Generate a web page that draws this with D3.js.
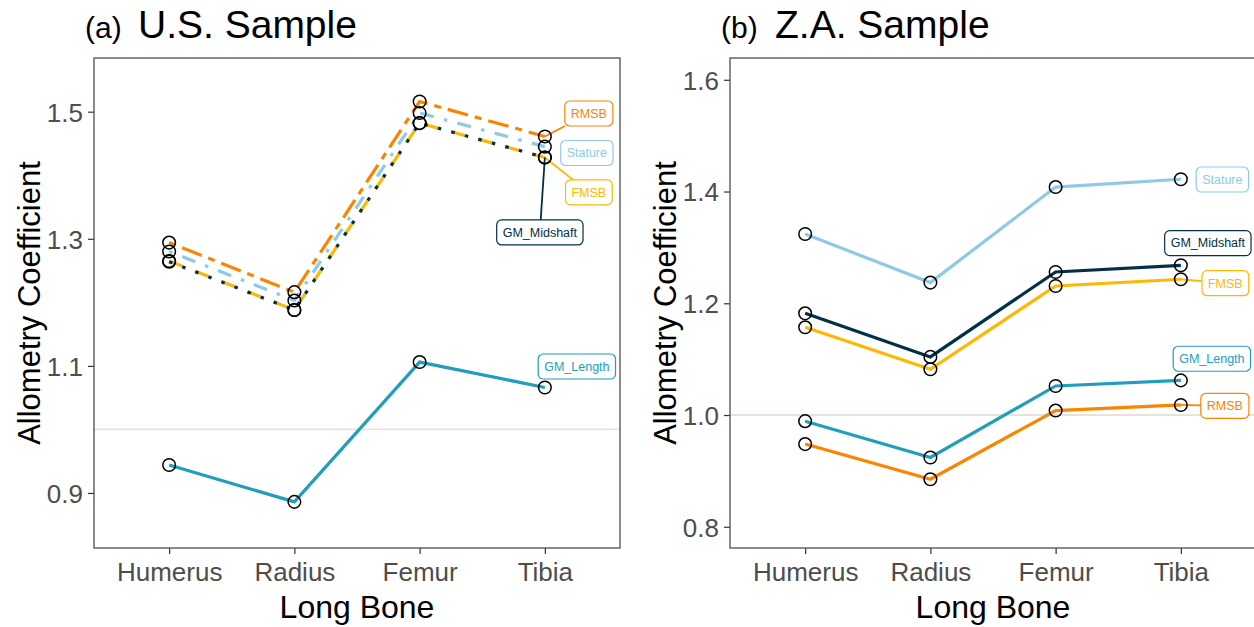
<!DOCTYPE html>
<html>
<head>
<meta charset="utf-8">
<script src="https://cdn.jsdelivr.net/npm/d3@7"></script>
<style>
  body { margin: 0; background: #fff; }
  svg { display: block; font-family: "Liberation Sans", Arial, sans-serif; }
</style>
</head>
<body>
<svg id="chart"></svg>
<script>
var bones = ["Humerus", "Radius", "Femur", "Tibia"];
var seriesNames = ["GM_Length", "RMSB", "Stature", "FMSB", "GM_Midshaft"];

// (a) U.S. sample
var usRMSB       = [1.294, 1.216, 1.516, 1.461];
var usStature    = [1.280, 1.203, 1.498, 1.445];
var usFMSB       = [1.265, 1.188, 1.482, 1.428];
var usGMMidshaft = [1.264, 1.188, 1.482, 1.428];
var usGMLength   = [0.944, 0.886, 1.106, 1.066];
var usTicks  = [0.9, 1.1, 1.3, 1.5];
var usDomain = [0.8134, 1.5845];

// (b) Z.A. sample
var zaRMSB       = [0.948, 0.885, 1.008, 1.018];
var zaStature    = [1.324, 1.237, 1.408, 1.422];
var zaFMSB       = [1.157, 1.082, 1.231, 1.243];
var zaGMMidshaft = [1.182, 1.104, 1.256, 1.268];
var zaGMLength   = [0.989, 0.924, 1.052, 1.062];
var zaTicks  = [0.8, 1.0, 1.2, 1.4, 1.6];
var zaDomain = [0.762, 1.639];

var refValue = 1.0;

var colors = {
  RMSB: "#fb8500",
  Stature: "#8ecae6",
  FMSB: "#ffb703",
  GM_Midshaft: "#023047",
  GM_Length: "#219ebc"
};

// dash styles for the U.S. panel (ggplot twodash, dotdash, dashed, dotted, solid)
var usDash = {
  RMSB: "7,7,21,7",
  Stature: "3.5,10.5,14,10.5",
  FMSB: "14,14",
  GM_Midshaft: "3.5,10.5",
  GM_Length: null
};

// label placement: dx from the Tibia position (px), y in data units
var usLabels = {
  RMSB:        { dx: 44, y: 1.4972, seg: true },
  Stature:     { dx: 42, y: 1.435,  seg: false },
  FMSB:        { dx: 44, y: 1.373,  seg: true },
  GM_Midshaft: { dx: -5, y: 1.310,  seg: true },
  GM_Length:   { dx: 32, y: 1.099,  seg: false }
};
var zaLabels = {
  RMSB:        { dx: 44,   y: 1.0165, seg: true },
  Stature:     { dx: 41.5, y: 1.4215, seg: false },
  FMSB:        { dx: 44.5, y: 1.236,  seg: true },
  GM_Midshaft: { dx: 27,   y: 1.3077, seg: false },
  GM_Length:   { dx: 31,   y: 1.1007, seg: false }
};

var width = 1254, height = 627;
var svg = d3.select("#chart").attr("width", width).attr("height", height);

var panels = [
  {
    tag: "(a)", title: "U.S. Sample", left: 94, right: 620, tagX: 85, titleX: 138,
    domain: usDomain, ticks: usTicks, dash: usDash, labels: usLabels,
    values: { RMSB: usRMSB, Stature: usStature, FMSB: usFMSB, GM_Midshaft: usGMMidshaft, GM_Length: usGMLength }
  },
  {
    tag: "(b)", title: "Z.A. Sample", left: 730, right: 1256, tagX: 721, titleX: 775,
    domain: zaDomain, ticks: zaTicks, dash: {}, labels: zaLabels,
    values: { RMSB: zaRMSB, Stature: zaStature, FMSB: zaFMSB, GM_Midshaft: zaGMMidshaft, GM_Length: zaGMLength }
  }
];

var plotTop = 58, plotBottom = 548;

panels.forEach(function (p) {
  var g = svg.append("g");

  var x = d3.scalePoint().domain(bones).range([p.left, p.right]).padding(0.6);
  var y = d3.scaleLinear().domain(p.domain).range([plotBottom, plotTop]);

  // title
  var t = g.append("text").attr("y", 38).attr("fill", "#000");
  t.append("tspan").attr("x", p.tagX).attr("font-size", 30).text(p.tag);
  t.append("tspan").attr("x", p.titleX).attr("font-size", 39).text(p.title);

  // reference line
  g.append("line")
    .attr("x1", p.left).attr("x2", p.right)
    .attr("y1", y(refValue)).attr("y2", y(refValue))
    .attr("stroke", "#e6e3da").attr("stroke-width", 1.8);

  // axes
  var yAxis = g.append("g")
    .attr("transform", "translate(" + p.left + ",0)")
    .call(d3.axisLeft(y).tickValues(p.ticks).tickFormat(d3.format(".1f")).tickSize(6).tickPadding(5));
  var xAxis = g.append("g")
    .attr("transform", "translate(0," + plotBottom + ")")
    .call(d3.axisBottom(x).tickSize(6).tickPadding(4));
  [yAxis, xAxis].forEach(function (a) {
    a.select(".domain").remove();
    a.selectAll(".tick line").attr("stroke", "#333").attr("stroke-width", 1.2);
    a.selectAll(".tick text").attr("fill", "#4d4d4d").attr("font-size", 26)
      .attr("font-family", "Liberation Sans, Arial, sans-serif");
  });
  xAxis.selectAll(".tick text").attr("dy", "0.9em");
  yAxis.selectAll(".tick text").attr("dy", "0.36em");

  // panel border
  g.append("rect")
    .attr("x", p.left).attr("y", plotTop)
    .attr("width", p.right - p.left).attr("height", plotBottom - plotTop)
    .attr("fill", "none").attr("stroke", "#4d4d4d").attr("stroke-width", 1.3);

  // axis titles
  g.append("text")
    .attr("x", (p.left + p.right) / 2).attr("y", 618)
    .attr("text-anchor", "middle").attr("font-size", 32).attr("fill", "#000")
    .text("Long Bone");
  g.append("text")
    .attr("transform", "translate(" + (p.left - 54) + "," + ((plotTop + plotBottom) / 2) + ") rotate(-90)")
    .attr("text-anchor", "middle").attr("font-size", 31).attr("fill", "#000")
    .text("Allometry Coefficient");

  // lines
  var line = d3.line().x(function (d, i) { return x(bones[i]); }).y(function (d) { return y(d); });
  seriesNames.forEach(function (s) {
    g.append("path")
      .datum(p.values[s])
      .attr("d", line)
      .attr("fill", "none")
      .attr("stroke", colors[s])
      .attr("stroke-width", 3.2)
      .attr("stroke-linecap", "butt")
      .attr("stroke-dasharray", p.dash[s] || null);
  });

  // labels with segments
  seriesNames.forEach(function (s) {
    var lab = p.labels[s];
    var px = x("Tibia"), py = y(p.values[s][3]);
    var cx = px + lab.dx, cy = y(lab.y);
    var tmp = g.append("text").attr("font-size", 12.5).text(s);
    var tw = tmp.node().getComputedTextLength();
    tmp.remove();
    var hw = tw / 2 + 6, hh = 12.5;
    if (lab.seg) {
      var vx = px - cx, vy = py - cy;
      var sc = Math.min(Math.abs(vx) > 0 ? hw / Math.abs(vx) : Infinity, Math.abs(vy) > 0 ? hh / Math.abs(vy) : Infinity);
      g.append("line")
        .attr("x1", px).attr("y1", py)
        .attr("x2", cx + vx * sc).attr("y2", cy + vy * sc)
        .attr("stroke", colors[s]).attr("stroke-width", 1.8);
    }
    g.append("rect")
      .attr("x", cx - hw).attr("y", cy - hh)
      .attr("width", hw * 2).attr("height", hh * 2)
      .attr("rx", 5).attr("ry", 5)
      .attr("fill", "#fff").attr("stroke", colors[s]).attr("stroke-width", 1.2);
    g.append("text")
      .attr("x", cx).attr("y", cy).attr("dy", "0.35em")
      .attr("text-anchor", "middle").attr("font-size", 12.5)
      .attr("fill", colors[s]).text(s);
  });

  // points
  seriesNames.forEach(function (s) {
    g.selectAll(null)
      .data(p.values[s])
      .enter()
      .append("circle")
      .attr("cx", function (d, i) { return x(bones[i]); })
      .attr("cy", function (d) { return y(d); })
      .attr("r", 6.3)
      .attr("fill", "none")
      .attr("stroke", "#000")
      .attr("stroke-width", 1.5);
  });
});
</script>
</body>
</html>
